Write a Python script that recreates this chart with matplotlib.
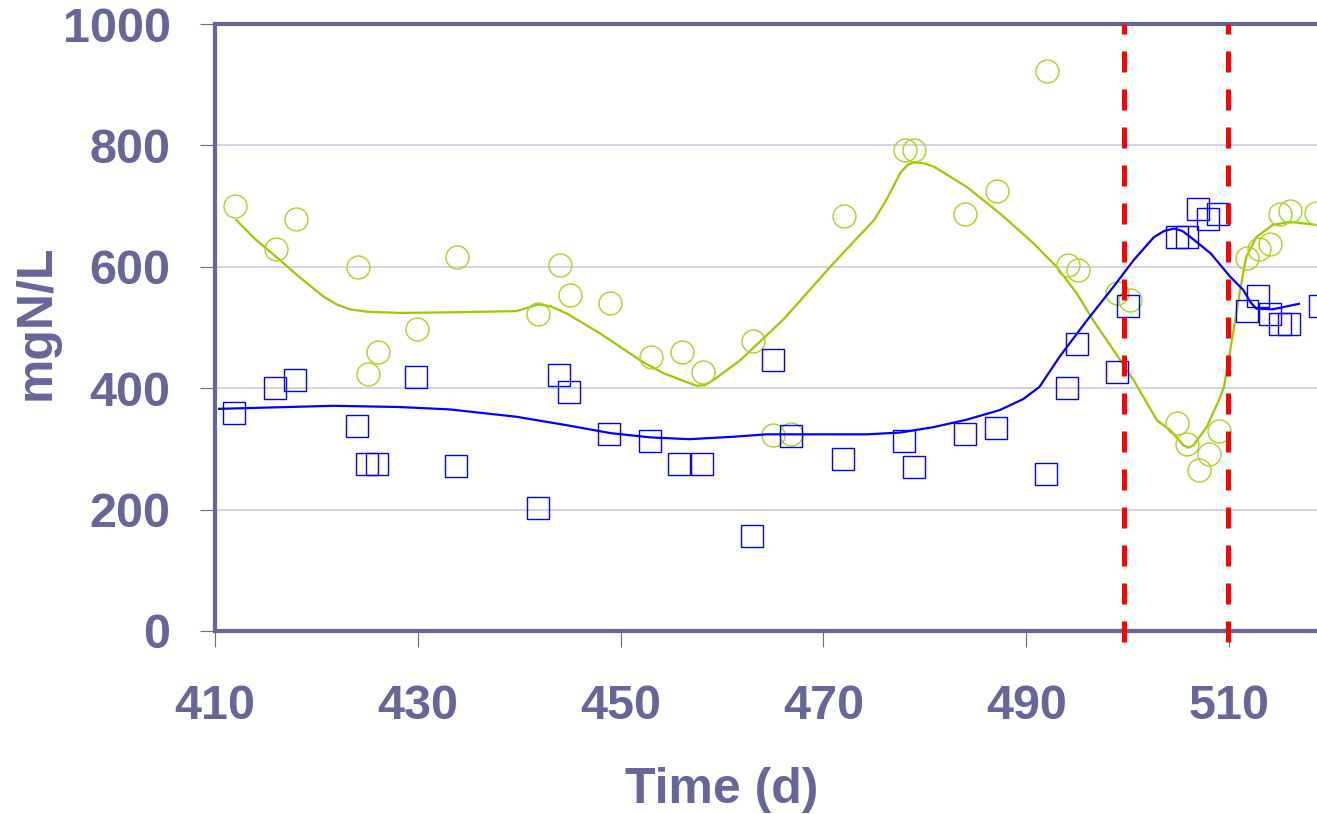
import matplotlib
matplotlib.use("Agg")
import matplotlib.pyplot as plt

# --- data ---
# circles (green) - measured points
nh4_day = [412.0, 416.0, 418.0, 424.1, 425.1, 426.1, 429.9, 433.9, 441.9, 444.0,
           445.0, 449.0, 453.0, 456.1, 458.1, 463.1, 465.0, 466.8, 472.0, 478.0,
           478.9, 484.0, 487.1, 492.1, 494.1, 495.1, 499.0, 500.2, 504.9, 505.9,
           507.0, 508.0, 509.0, 511.8, 513.0, 514.0, 515.0, 516.0, 518.6]
nh4_val = [700, 629, 679, 599, 423, 460, 498, 616, 523, 603,
           553, 540, 452, 460, 426, 477, 323, 325, 683, 792,
           792, 687, 725, 922, 603, 595, 557, 545, 343, 308,
           266, 292, 330, 615, 629, 637, 687, 692, 688]

# squares (blue) - measured points
no3_day = [411.9, 415.9, 417.9, 424.0, 425.0, 426.0, 429.8, 433.8, 441.9, 443.9,
           444.9, 448.9, 452.9, 455.8, 458.0, 463.0, 465.0, 466.8, 471.9, 477.9,
           478.9, 484.0, 487.0, 492.0, 494.0, 495.0, 499.0, 500.0, 504.9, 505.9,
           506.9, 507.9, 508.9, 511.8, 512.9, 514.0, 515.0, 515.9, 519.0]
no3_val = [359, 401, 413, 337, 275, 275, 418, 272, 203, 422,
           393, 325, 313, 275, 275, 157, 447, 321, 283, 313,
           271, 325, 334, 258, 401, 473, 426, 536, 649, 649,
           695, 679, 687, 527, 552, 523, 506, 506, 536]

# smoothed trend lines
nh4_fit_day = [412.1, 414.0, 416.0, 418.4, 420.7, 422.0, 423.3, 425.0, 428.3, 433.2,
               439.7, 441.1, 441.9, 443.1, 444.7, 448.0, 452.2, 454.2, 456.2, 457.5,
               458.3, 459.2, 461.8, 466.1, 471.0, 475.0, 476.2, 477.6, 478.3, 478.9,
               479.8, 480.9, 484.1, 487.4, 490.7, 493.0, 495.0, 496.6, 498.6, 500.6,
               502.9, 504.2, 505.5, 506.0, 506.5, 507.8, 509.0, 509.5, 510.4, 511.1,
               511.7, 512.7, 514.3, 516.0, 518.6, 520.0]
nh4_fit_val = [677, 645, 617, 582, 551, 538, 530, 526, 524, 525,
               527, 534, 538, 535, 523, 490, 443, 425, 412, 404,
               405, 414, 446, 514, 606, 677, 710, 755, 768, 772,
               771, 765, 732, 688, 639, 600, 556, 512, 463, 413,
               347, 331, 306, 302, 306, 336, 380, 402, 490, 562,
               616, 649, 669, 674, 669, 666]

no3_fit_day = [410.4, 421.7, 428.2, 433.2, 439.7, 444.7, 449.0, 452.9, 456.8, 461.1,
               464.4, 469.3, 474.3, 477.6, 480.9, 484.1, 487.4, 489.7, 491.3, 493.3,
               496.0, 498.6, 500.6, 502.6, 503.6, 504.6, 505.4, 506.2, 508.2, 510.1,
               511.4, 512.1, 512.7, 514.3, 516.9]
no3_fit_val = [366, 371, 369, 365, 353, 339, 326, 319, 316, 320,
               324, 324, 324, 327, 336, 348, 364, 382, 402, 452,
               512, 567, 611, 649, 659, 663, 659, 649, 622, 584,
               562, 542, 531, 530, 539]

event_days = [499.6, 509.9]

x_ticks = [410, 430, 450, 470, 490, 510]
y_ticks = [0, 200, 400, 600, 800, 1000]

# --- style ---
TEXT = "#666699"
GREEN = "#99CC00"
BLUE = "#0000FF"
plt.rcParams["font.family"] = ["Liberation Sans", "DejaVu Sans"]
plt.rcParams["font.weight"] = "bold"

W, H = 1317, 814
fig = plt.figure(figsize=(W / 100, H / 100), dpi=100)
x0, x1 = 410, 520
px_per_day = 10.14
ax = fig.add_axes([215 / W, (H - 631) / H, (x1 - x0) * px_per_day / W, 607 / H])

ax.set_xlim(x0, x1)
ax.set_ylim(0, 1000)

ax.grid(axis="y", color="#C8C8DE", linewidth=1.1, zorder=0)
ax.set_axisbelow(True)

ax.plot(nh4_fit_day, nh4_fit_val, color=GREEN, linewidth=1.6, zorder=2)
ax.plot(nh4_day, nh4_val, linestyle="none", marker="o", markersize=16.5,
        markerfacecolor="none", markeredgecolor="#A8D420", markeredgewidth=1.0, zorder=3)

ax.plot(no3_fit_day, no3_fit_val, color=BLUE, linewidth=1.6, zorder=4)
ax.plot(no3_day, no3_val, linestyle="none", marker="s", markersize=16.5,
        markerfacecolor="none", markeredgecolor=BLUE, markeredgewidth=1.0, zorder=5)

for d in event_days:
    ax.axvline(d, ymin=-0.018, ymax=1.0, color="#FF0000", linewidth=3.6,
               dashes=(4.2, 3.4), clip_on=False, zorder=6)

for side in ["left", "bottom", "top"]:
    ax.spines[side].set_color(TEXT)
    ax.spines[side].set_linewidth(3.0)
ax.spines["right"].set_visible(False)

ax.set_xticks(x_ticks)
ax.set_yticks(y_ticks)
ax.tick_params(axis="y", direction="out", length=11, width=0.8, color=TEXT,
               labelsize=35, labelcolor=TEXT, pad=21)
ax.tick_params(axis="x", direction="out", length=11.5, width=0.8, color=TEXT,
               labelsize=35, labelcolor=TEXT, pad=27)
for lab in ax.get_xticklabels() + ax.get_yticklabels():
    lab.set_fontweight("bold")

fig.text(722 / W, 1 - 790 / H, "Time (d)", ha="center", va="center",
         fontsize=36, fontweight="bold", color=TEXT)
fig.text(37 / W, 1 - 322 / H, "mgN/L", ha="center", va="center", rotation=90,
         fontsize=36, fontweight="bold", color=TEXT)

fig.savefig("out.png", dpi=100)
